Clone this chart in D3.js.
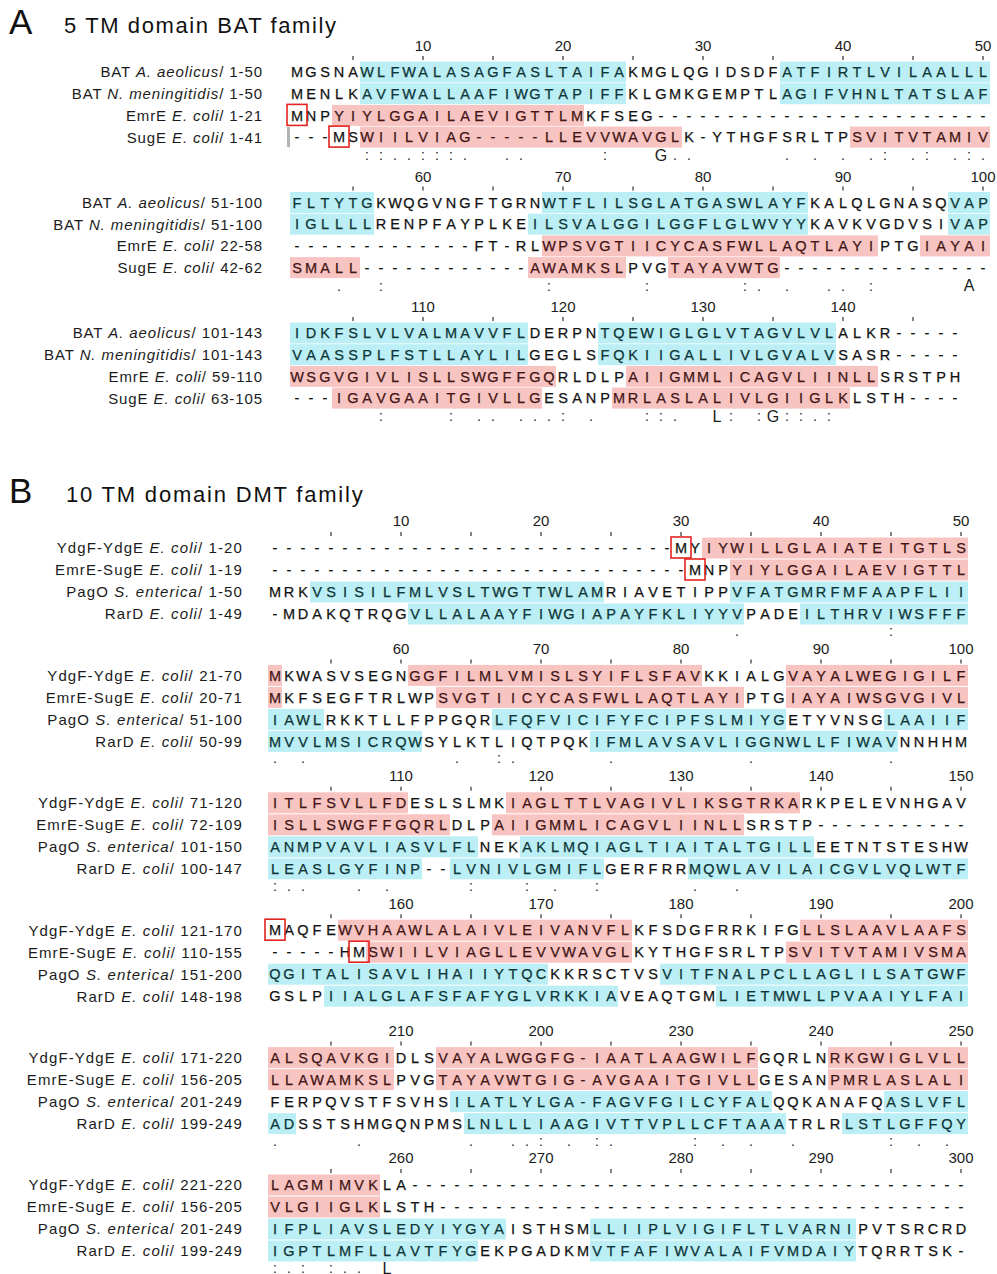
<!DOCTYPE html>
<html>
<head>
<meta charset="utf-8">
<script src="https://cdn.jsdelivr.net/npm/d3@7"></script>
<style>
  body { margin: 0; background: #fff; }
  svg text { font-family: "Liberation Sans", Arial, Helvetica, sans-serif; }
</style>
</head>
<body>
<svg id="fig" width="997" height="1274"></svg>
<script>
// ===== Panel A: 5 TM domain BAT family =====
const aProteins = ["BAT", "BAT", "EmrE", "SugE"];
const aSpecies = ["A. aeolicus", "N. meningitidis", "E. coli", "E. coli"];
const aRanges = [
  ["1-50", "1-50", "1-21", "1-41"],
  ["51-100", "51-100", "22-58", "42-62"],
  ["101-143", "101-143", "59-110", "63-105"]
];
const aSeqs = [
  ["MGSNAWLFWALASAGFASLTAIFAKMGLQGIDSDFATFIRTLVILAALLL",
   "MENLKAVFWALLAAFIWGTAPIFFKLGMKGEMPTLAGIFVHNLTATSLAF",
   "MNPYIYLGGAILAEVIGTTLMKFSEG------------------------",
   "---MSWIILVIAG-----LLEVVWAVGLK-YTHGFSRLTPSVITVTAMIV"],
  ["FLTYTGKWQGVNGFTGRNWTFLILSGLATGASWLAYFKALQLGNASQVAP",
   "IGLLLLRENPFAYPLKEILSVALGGILGGFLGLWVYYKAVKVGDVSIVAP",
   "-------------FT-RLWPSVGTIICYCASFWLLAQTLAYIPTGIAYAI",
   "SMALL------------AWAMKSLPVGTAYAVWTG---------------"],
  ["IDKFSLVLVALMAVVFLDERPNTQEWIGLGLVTAGVLVLALKR-----",
   "VAASSPLFSTLLAYLILGEGLSFQKIIGALLIVLGVALVSASR-----",
   "WSGVGIVLISLLSWGFFGQRLDLPAIIGMMLICAGVLIINLLSRSTPH",
   "---IGAVGAAITGIVLLGESANPMRLASLALIVLGIIGLKLSTH----"]
];
// shaded transmembrane segments, [first, last] column within each block
const aSegments = [
  [[[6, 24], [36, 50]], [[6, 24], [36, 50]], [[4, 21]], [[6, 28], [41, 50]]],
  [[[1, 6], [19, 37], [48, 50]], [[1, 6], [18, 37], [48, 50]], [[19, 42], [46, 50]], [[1, 5], [18, 24], [28, 35]]],
  [[[1, 17], [23, 39]], [[1, 17], [23, 39]], [[1, 19], [25, 42]], [[4, 18], [24, 40]]]
];
const aRowShade = ["cyan", "cyan", "pink", "pink"];
const aConsensus = [
  [[6, ":"], [7, ":"], [8, "."], [9, "."], [10, ":"], [11, ":"], [12, ":"], [13, "."], [16, "."], [17, "."],
   [23, ":"], [27, "G"], [28, "."], [29, "."], [36, "."], [38, "."], [40, "."], [42, "."], [43, ":"],
   [45, "."], [46, ":"], [48, "."], [49, ":"], [50, "."]],
  [[4, "."], [7, ":"], [19, ":"], [26, ":"], [33, ":"], [34, "."], [36, "."], [39, "."], [40, "."], [42, ":"], [49, "A"]],
  [[7, ":"], [12, ":"], [14, "."], [15, "."], [17, "."], [18, "."], [19, "."], [20, ":"], [22, "."], [26, ":"],
   [27, ":"], [28, "."], [31, "L"], [32, ":"], [34, ":"], [35, "G"], [36, ":"], [37, ":"], [38, "."], [39, ":"]]
];
const aTickLabels = [
  ["10", "20", "30", "40", "50"],
  ["60", "70", "80", "90", "100"],
  ["110", "120", "130", "140"]
];
// start methionines outlined in red: [block, row, column]
const aStartBoxes = [[0, 2, 1], [0, 3, 4]];

// ===== Panel B: 10 TM domain DMT family =====
const bProteins = ["YdgF-YdgE", "EmrE-SugE", "PagO", "RarD"];
const bSpecies = ["E. coli", "E. coli", "S. enterica", "E. coli"];
const bRanges = [
  ["1-20", "1-19", "1-50", "1-49"],
  ["21-70", "20-71", "51-100", "50-99"],
  ["71-120", "72-109", "101-150", "100-147"],
  ["121-170", "110-155", "151-200", "148-198"],
  ["171-220", "156-205", "201-249", "199-249"],
  ["221-220", "156-205", "201-249", "199-249"]
];
const bSeqs = [
  ["-----------------------------MYIYWILLGLAIATEITGTLS",
   "------------------------------MNPYIYLGGAILAEVIGTTL",
   "MRKVSISILFMLVSLTWGTTWLAMRIAVETIPPVFATGMRFMFAAPFLII",
   "-MDAKQTRQGVLLALAAYFIWGIAPAYFKLIYYVPADEILTHRVIWSFFF"],
  ["MKWASVSEGNGGFILMLVMISLSYIFLSFAVKKIALGVAYALWEGIGILF",
   "MKFSEGFTRLWPSVGTIICYCASFWLLAQTLAYIPTGIAYAIWSGVGIVL",
   "IAWLRKKTLLFPPGQRLFQFVICIFYFCIPFSLMIYGETYVNSGLAAIIF",
   "MVVLMSICRQWSYLKTLIQTPQKIFMLAVSAVLIGGNWLLFIWAVNNHHM"],
  ["ITLFSVLLFDESLSLMKIAGLTTLVAGIVLIKSGTRKARKPELEVNHGAV",
   "ISLLSWGFFGQRLDLPAIIGMMLICAGVLIINLLSRSTP-----------",
   "ANMPVAVLIASVLFLNEKAKLMQIAGLTIAITALTGILLEETNTSTESHW",
   "LEASLGYFINP--LVNIVLGMIFLGERFRRMQWLAVILAICGVLVQLWTF"],
  ["MAQFEWVHAAWLALAIVLEIVANVFLKFSDGFRRKIFGLLSLAAVLAAFS",
   "-----HMSWIILVIAGLLEVVWAVGLKYTHGFSRLTPSVITVTAMIVSMA",
   "QGITALISAVLIHAIIYTQCKKRSCTVSVITFNALPCLLAGLILSATGWF",
   "GSLPIIALGLAFSFAFYGLVRKKIAVEAQTGMLIETMWLLPVAAIYLFAI"],
  ["ALSQAVKGIDLSVAYALWGGFG-IAATLAAGWILFGQRLNRKGWIGLVLL",
   "LLAWAMKSLPVGTAYAVWTGIG-AVGAAITGIVLLGESANPMRLASLALI",
   "FERPQVSTFSVHSILATLYLGA-FAGVFGILCYFALQQKANAFQASLVFL",
   "ADSSTSHMGQNPMSLNLLLIAAGIVTTVPLLCFTAAATRLRLSTLGFFQY"],
  ["LAGMIMVKLA----------------------------------------",
   "VLGIIGLKLSTH--------------------------------------",
   "IFPLIAVSLEDYIYGYAISTHSMLLIIPLVIGIFLTLVARNIPVTSRCRD",
   "IGPTLMFLLAVTFYGEKPGADKMVTFAFIWVALAIFVMDAIYTQRRTSK-"]
];
const bSegments = [
  [[[32, 50]], [[34, 50]], [[4, 24], [34, 50]], [[11, 34], [39, 50]]],
  [[[1, 1], [11, 31], [38, 50]], [[1, 1], [13, 34], [38, 50]], [[1, 4], [17, 37], [45, 50]], [[1, 11], [24, 45]]],
  [[[1, 10], [18, 38]], [[1, 13], [17, 34]], [[1, 15], [19, 39]], [[1, 11], [14, 24], [31, 50]]],
  [[[6, 26], [39, 50]], [[8, 26], [38, 50]], [[1, 20], [29, 50]], [[5, 25], [33, 50]]],
  [[[1, 9], [13, 35], [41, 50]], [[1, 9], [13, 35], [41, 50]], [[14, 36], [45, 50]], [[1, 2], [15, 37], [42, 50]]],
  [[[1, 8]], [[1, 8]], [[1, 17], [24, 42]], [[1, 15], [24, 42]]]
];
const bRowShade = ["pink", "pink", "cyan", "cyan"];
const bConsensus = [
  [[34, "."], [45, ":"]],
  [[1, "."], [3, "."], [14, "."], [17, ":"], [18, "."], [25, "."], [35, "."], [45, "."]],
  [[1, ":"], [2, "."], [3, "."], [7, "."], [9, "."], [15, ":"], [19, ":"], [21, "."], [24, ":"], [31, "."], [34, "."]],
  [],
  [[1, "."], [7, "."], [15, "."], [18, "."], [19, "."], [20, ":"], [22, "."], [24, ":"], [25, "."], [31, ":"],
   [33, "."], [35, "."], [38, "."], [45, ":"], [47, "."], [49, "."]],
  [[1, ":"], [2, "."], [3, ":"], [5, ":"], [6, "."], [7, "."], [9, "L"]]
];
const bTickLabels = [
  ["10", "20", "30", "40", "50"],
  ["60", "70", "80", "90", "100"],
  ["110", "120", "130", "140", "150"],
  ["160", "170", "180", "190", "200"],
  ["210", "200", "230", "240", "250"],
  ["260", "270", "280", "290", "300"]
];
const bStartBoxes = [[0, 0, 30], [0, 1, 31], [3, 0, 1], [3, 1, 7]];

// ===== drawing =====
const CELL = 14;
const shadeFill = { pink: "#f8c4c2", cyan: "#bceff5" };
const shadeInk = { pink: "#421414", cyan: "#0c3537" };
const plainInk = "#111";

const svg = d3.select("#fig");

function drawPanel(p) {
  const g = svg.append("g");
  const nBlocks = p.seqs.length;
  const x = d3.scaleLinear().domain([1, 50]).range([p.col1, p.col1 + 49 * CELL]);
  const blockY = d3.scaleLinear().domain([0, nBlocks - 1]).range(p.blockRange);
  const rowY = (b, r) => blockY(b) + r * p.rowStep;

  // title
  g.append("text").attr("x", p.letterX).attr("y", p.titleY)
    .attr("font-size", 35).attr("fill", "#111").text(p.letter);
  g.append("text").attr("x", p.titleX).attr("y", p.titleY - 1)
    .attr("font-size", 22).attr("letter-spacing", p.titleSpacing).attr("fill", "#111").text(p.title);

  p.seqs.forEach((rows, b) => {
    const bg = g.append("g");
    const len = rows[0].length;
    const y0 = rowY(b, 0);

    // ruler: minor ticks every 5 columns, numbers every 10
    const tickCols = d3.range(5, len + 1, 5);
    bg.selectAll("line.tick").data(tickCols).join("line")
      .attr("x1", d => x(d)).attr("x2", d => x(d))
      .attr("y1", y0 - 16).attr("y2", y0 - 12)
      .attr("stroke", "#333").attr("stroke-width", 1.2);
    bg.selectAll("text.tick").data(p.ticks[b]).join("text")
      .attr("x", (d, i) => x((i + 1) * 10)).attr("y", y0 - p.tickGap)
      .attr("dy", "0.36em").attr("text-anchor", "middle")
      .attr("font-size", 15).attr("fill", "#1b1b1b").text(d => d);

    rows.forEach((seq, r) => {
      const y = rowY(b, r);
      const shade = p.rowShade[r];
      const segs = p.segments[b][r];
      // shaded segments
      bg.selectAll(null).data(segs).join("rect")
        .attr("x", d => x(d[0]) - CELL / 2)
        .attr("width", d => x(d[1]) - x(d[0]) + CELL)
        .attr("y", y - 10.5).attr("height", 21)
        .attr("fill", shadeFill[shade]);
      // residues
      const inSeg = c => segs.some(s => c >= s[0] && c <= s[1]);
      const ink = (d, i) => inSeg(i + 1) ? shadeInk[shade] : plainInk;
      bg.selectAll(null).data(seq.split("")).join("text")
        .attr("x", (d, i) => x(i + 1)).attr("y", y)
        .attr("dy", "0.36em").attr("text-anchor", "middle")
        .attr("font-size", 14.5)
        .attr("fill", ink).attr("stroke", ink).attr("stroke-width", 0.25)
        .text(d => d);
      // sequence name
      const lab = bg.append("text").attr("x", p.labelRight).attr("y", y)
        .attr("dy", "0.36em").attr("text-anchor", "end")
        .attr("font-size", 15).attr("letter-spacing", p.labelSpacing).attr("fill", "#1b1b1b");
      lab.append("tspan").text(p.proteins[r] + " ");
      lab.append("tspan").attr("font-style", "italic").text(p.species[r]);
      lab.append("tspan").text("/ " + p.ranges[b][r]);
    });

    // conservation line
    const yc = rowY(b, 3) + p.consGap;
    bg.selectAll(null).data(p.consensus[b]).join("text")
      .attr("x", d => x(d[0])).attr("y", yc)
      .attr("dy", "0.36em").attr("text-anchor", "middle")
      .attr("font-size", d => /[A-Z]/.test(d[1]) ? 16 : 14)
      .attr("fill", "#1b1b1b").text(d => d[1]);
  });

  // start codon boxes
  g.selectAll(null).data(p.boxes).join("rect")
    .attr("x", d => x(d[2]) - 10).attr("y", d => rowY(d[0], d[1]) - 11)
    .attr("width", 20).attr("height", 21)
    .attr("fill", "none").attr("stroke", "#e3231f").attr("stroke-width", 1.6);

  if (p.cursor) {
    const [cb, cr] = p.cursor;
    g.append("rect").attr("x", x(1) - 10).attr("y", rowY(cb, cr) - 10)
      .attr("width", 3).attr("height", 20).attr("fill", "#b3b3b3");
  }
}

drawPanel({
  letter: "A", title: "5 TM domain BAT family", letterX: 9, titleX: 64, titleY: 34, titleSpacing: 1.6,
  proteins: aProteins, species: aSpecies, ranges: aRanges, seqs: aSeqs,
  segments: aSegments, rowShade: aRowShade, consensus: aConsensus, ticks: aTickLabels,
  boxes: aStartBoxes, cursor: [0, 3],
  col1: 297, blockRange: [72, 333], rowStep: 21.7, tickGap: 26, consGap: 18,
  labelRight: 263, labelSpacing: 0.9
});

drawPanel({
  letter: "B", title: "10 TM domain DMT family", letterX: 9, titleX: 66, titleY: 503, titleSpacing: 1.8,
  proteins: bProteins, species: bSpecies, ranges: bRanges, seqs: bSeqs,
  segments: bSegments, rowShade: bRowShade, consensus: bConsensus, ticks: bTickLabels,
  boxes: bStartBoxes, cursor: null,
  col1: 275, blockRange: [548, 1185], rowStep: 22, tickGap: 27, consGap: 17,
  labelRight: 243, labelSpacing: 1.1
});
</script>
</body>
</html>
